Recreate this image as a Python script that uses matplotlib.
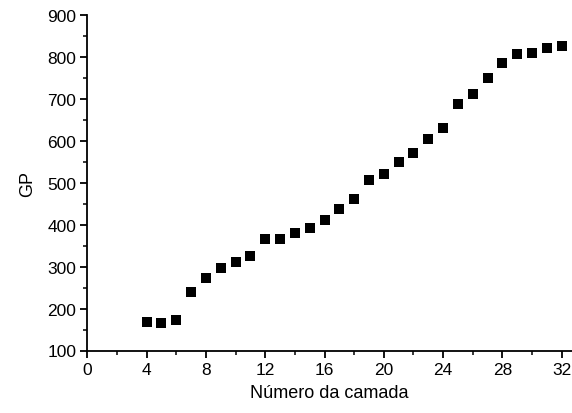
import numpy as np
import matplotlib
matplotlib.use('Agg')
import matplotlib.pyplot as plt
from matplotlib.ticker import MultipleLocator

plt.rcParams['font.family'] = ['Liberation Sans', 'DejaVu Sans']

# layer number vs GP
camada = [4, 5, 6, 7, 8, 9, 10, 11, 12, 13, 14, 15, 16, 17, 18, 19, 20, 21,
          22, 23, 24, 25, 26, 27, 28, 29, 30, 31, 32]
gp = [167, 165, 172, 239, 272, 296, 312, 326, 365, 365, 380, 392, 410, 437,
      461, 506, 520, 548, 570, 603, 631, 687, 711, 749, 785, 807, 809, 820, 825]

fig = plt.figure(figsize=(5.72, 4.14), dpi=100)
ax = fig.add_axes([87.4/572, (414-351.5)/414, (572-87.4)/572, (351.5-15.7)/414])

ax.plot(camada, gp, 's', color='black', markersize=7, markeredgewidth=0)

ax.set_xlim(0, 32.7)
ax.set_ylim(100, 900)
ax.xaxis.set_major_locator(MultipleLocator(4))
ax.xaxis.set_minor_locator(MultipleLocator(2))
ax.yaxis.set_major_locator(MultipleLocator(100))
ax.yaxis.set_minor_locator(MultipleLocator(50))

for s in ['top', 'right']:
  ax.spines[s].set_visible(False)
for s in ['left', 'bottom']:
  ax.spines[s].set_linewidth(1.3)

ax.tick_params(which='major', direction='out', length=5, width=1.3, labelsize=12.5, pad=3)
ax.tick_params(which='minor', direction='out', length=3, width=1.1)

ax.set_xlabel('Número da camada', fontsize=13, labelpad=5)
ax.set_ylabel('GP', fontsize=13, labelpad=8)

fig.savefig('out.png', dpi=100)
